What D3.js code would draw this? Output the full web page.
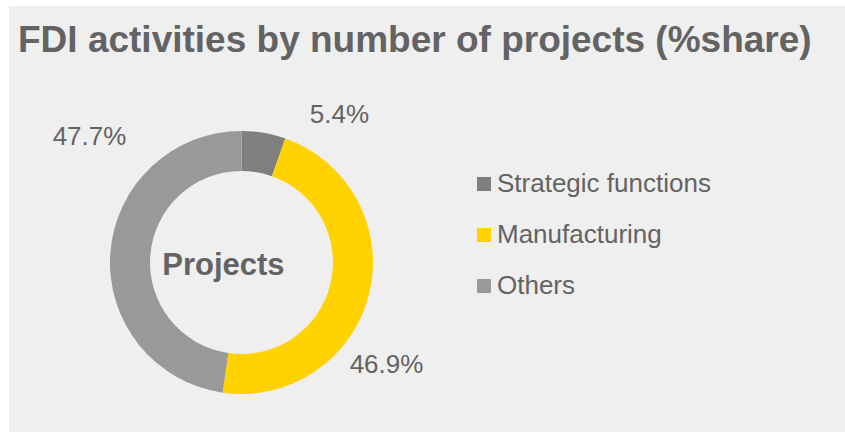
<!DOCTYPE html>
<html>
<head>
<meta charset="utf-8">
<script src="https://cdn.jsdelivr.net/npm/d3@7"></script>
<style>
  html, body { margin: 0; padding: 0; background: #ffffff; }
  svg { display: block; }
  text { font-family: "Liberation Sans", Arial, sans-serif; }
</style>
</head>
<body>
<svg id="chart" width="845" height="432"></svg>
<script>
// FDI activities, share of projects
const categories = ["Strategic functions", "Manufacturing", "Others"];
const shares = [5.4, 46.9, 47.7];
const colors = ["#7f7f7f", "#ffd200", "#999999"];

const svg = d3.select("#chart");
const W = 845, H = 432;
const textColor = "#636363";

// panel background
svg.append("rect")
  .attr("x", 9).attr("y", 6)
  .attr("width", W - 9).attr("height", H - 6)
  .attr("fill", "#efefef");

// title
svg.append("text")
  .attr("x", 18).attr("y", 52)
  .attr("font-size", 37)
  .attr("font-weight", "bold")
  .attr("fill", textColor)
  .text("FDI activities by number of projects (%share)");

// donut
const cx = 241.5, cy = 262.5, rOuter = 131.5, rInner = 91.5;
const data = categories.map((c, i) => ({ name: c, value: shares[i], color: colors[i] }));
const fmt = d => d3.format(".1f")(d) + "%";

const pie = d3.pie().value(d => d.value).sort(null);
const arc = d3.arc().innerRadius(rInner).outerRadius(rOuter);
const arcs = pie(data);

const g = svg.append("g").attr("transform", `translate(${cx},${cy})`);
g.selectAll("path")
  .data(arcs)
  .join("path")
  .attr("d", arc)
  .attr("fill", d => d.data.color);

// value labels sit just outside the ring, offset from the centre
const labelOffsets = [[98, -140], [145, 110], [-152, -118]];
g.selectAll("text.val")
  .data(arcs)
  .join("text")
  .attr("class", "val")
  .attr("x", (d, i) => labelOffsets[i][0])
  .attr("y", (d, i) => labelOffsets[i][1])
  .attr("text-anchor", "middle")
  .attr("font-size", 26)
  .attr("fill", textColor)
  .text(d => fmt(d.data.value));

// centre label
svg.append("text")
  .attr("x", 223.4).attr("y", 274.5)
  .attr("text-anchor", "middle")
  .attr("font-size", 31)
  .attr("font-weight", "bold")
  .attr("fill", textColor)
  .text("Projects");

// legend
const legend = svg.append("g").attr("transform", "translate(477,177)");
const rows = legend.selectAll("g")
  .data(data)
  .join("g")
  .attr("transform", (d, i) => `translate(0,${i * 51})`);
rows.append("rect")
  .attr("width", 14).attr("height", 14)
  .attr("fill", d => d.color);
rows.append("text")
  .attr("x", 20).attr("y", 14.5)
  .attr("font-size", 26)
  .attr("fill", textColor)
  .text(d => d.name);
</script>
</body>
</html>
